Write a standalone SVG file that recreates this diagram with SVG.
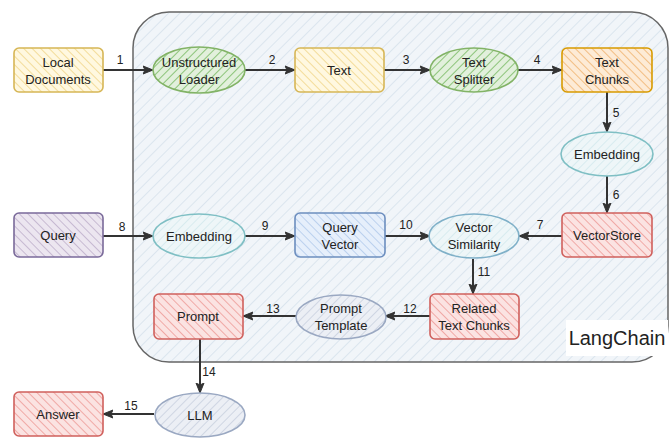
<svg xmlns="http://www.w3.org/2000/svg" width="671" height="438" viewBox="0 0 671 438">
<defs>
  <pattern id="hc" width="8" height="8" patternUnits="userSpaceOnUse" patternTransform="rotate(45)"><rect width="8" height="8" fill="#f1f5f9"/><line x1="0" y1="0" x2="0" y2="8" stroke="#dbe5ee" stroke-width="2"/></pattern>
  <pattern id="hy" width="6" height="6" patternUnits="userSpaceOnUse" patternTransform="rotate(-45)"><rect width="6" height="6" fill="#fff8e0"/><line x1="0" y1="0" x2="0" y2="6" stroke="#f3dc9a" stroke-width="2"/></pattern>
  <pattern id="ho" width="6" height="6" patternUnits="userSpaceOnUse" patternTransform="rotate(-45)"><rect width="6" height="6" fill="#fdebd6"/><line x1="0" y1="0" x2="0" y2="6" stroke="#f2bd82" stroke-width="2"/></pattern>
  <pattern id="hg" width="6" height="6" patternUnits="userSpaceOnUse" patternTransform="rotate(45)"><rect width="6" height="6" fill="#e2f0dc"/><line x1="0" y1="0" x2="0" y2="6" stroke="#8cc47a" stroke-width="2"/></pattern>
  <pattern id="hr" width="6" height="6" patternUnits="userSpaceOnUse" patternTransform="rotate(-45)"><rect width="6" height="6" fill="#fbe3e2"/><line x1="0" y1="0" x2="0" y2="6" stroke="#f0a9a6" stroke-width="2"/></pattern>
  <pattern id="hp" width="6" height="6" patternUnits="userSpaceOnUse" patternTransform="rotate(-45)"><rect width="6" height="6" fill="#ece6f0"/><line x1="0" y1="0" x2="0" y2="6" stroke="#c7bad2" stroke-width="2"/></pattern>
  <pattern id="hb" width="6" height="6" patternUnits="userSpaceOnUse" patternTransform="rotate(-45)"><rect width="6" height="6" fill="#e6effb"/><line x1="0" y1="0" x2="0" y2="6" stroke="#bcd1ee" stroke-width="2"/></pattern>
  <pattern id="ht" width="6" height="6" patternUnits="userSpaceOnUse" patternTransform="rotate(45)"><rect width="6" height="6" fill="#eef6f8"/><line x1="0" y1="0" x2="0" y2="6" stroke="#d8ebef" stroke-width="2"/></pattern>
  <pattern id="hl" width="6" height="6" patternUnits="userSpaceOnUse" patternTransform="rotate(45)"><rect width="6" height="6" fill="#eceff5"/><line x1="0" y1="0" x2="0" y2="6" stroke="#cfd6e3" stroke-width="2"/></pattern>
  <marker id="arr" viewBox="0 0 10 10" refX="9" refY="5" markerWidth="5" markerHeight="5" orient="auto-start-reverse" markerUnits="strokeWidth"><path d="M0,1 L10,5 L0,9 L2,5 Z" fill="#333" stroke="#333" stroke-width="1"/></marker>
</defs>
<style>
  text { font-family: "Liberation Sans", "DejaVu Sans", sans-serif; fill: #222; font-size: 13px; text-anchor: middle; }
  .lbl { font-size: 12px; text-anchor: middle; }
  .conn path { fill: none; stroke: #333; stroke-width: 2; marker-end: url(#arr); }
  .box { stroke-width: 1.6; }
</style>
<rect width="671" height="438" fill="#ffffff"/>

<g id="langchain">
  <rect x="133" y="12" width="535" height="350" rx="36" ry="36" fill="url(#hc)" stroke="#666" stroke-width="1.5"/>
  <rect x="566" y="320" width="102" height="36" fill="#ffffff"/>
  <text x="617" y="345" style="font-size:20px">LangChain</text>
</g>

<g class="conn" id="connectors">
  <path d="M103,70 L152,70"/><text class="lbl" x="120" y="64">1</text>
  <path d="M245,70 L294,70"/><text class="lbl" x="272" y="64">2</text>
  <path d="M384,70 L429,70"/><text class="lbl" x="406" y="64">3</text>
  <path d="M518,70 L561,70"/><text class="lbl" x="537" y="64">4</text>
  <path d="M607,92 L607,131"/><text class="lbl" x="616" y="117">5</text>
  <path d="M607,176 L607,212"/><text class="lbl" x="616" y="199">6</text>
  <path d="M562,236 L520,236"/><text class="lbl" x="540" y="229">7</text>
  <path d="M103,236 L152,236"/><text class="lbl" x="122" y="231">8</text>
  <path d="M245,236 L294,236"/><text class="lbl" x="265" y="230">9</text>
  <path d="M385,236 L429,236"/><text class="lbl" x="406" y="229">10</text>
  <path d="M473,259 L473,293"/><text class="lbl" x="484" y="276">11</text>
  <path d="M430,316 L386,316"/><text class="lbl" x="410" y="313">12</text>
  <path d="M296,316 L244,316"/><text class="lbl" x="273" y="313">13</text>
  <path d="M200,339 L200,392"/><text class="lbl" x="209" y="376">14</text>
  <path d="M154,414 L104,414"/><text class="lbl" x="131" y="410">15</text>
</g>

<g id="local-documents">
  <rect class="box" x="14" y="48" width="89" height="44" rx="5" fill="url(#hy)" stroke="#d6b656"/>
  <text x="58" y="67">Local</text><text x="58" y="84">Documents</text>
</g>
<g id="unstructured-loader">
  <ellipse class="box" cx="199" cy="70" rx="46" ry="23" fill="url(#hg)" stroke="#82b366"/>
  <text x="199" y="67">Unstructured</text><text x="199" y="84">Loader</text>
</g>
<g id="text">
  <rect class="box" x="295" y="48" width="89" height="44" rx="5" fill="url(#hy)" stroke="#d6b656"/>
  <text x="339" y="75">Text</text>
</g>
<g id="text-splitter">
  <ellipse class="box" cx="474" cy="70" rx="44" ry="22" fill="url(#hg)" stroke="#82b366"/>
  <text x="474" y="67">Text</text><text x="474" y="84">Splitter</text>
</g>
<g id="text-chunks">
  <rect class="box" x="562" y="48" width="90" height="44" rx="5" fill="url(#ho)" stroke="#d79b00"/>
  <text x="607" y="67">Text</text><text x="607" y="84">Chunks</text>
</g>
<g id="embedding-docs">
  <ellipse class="box" cx="607" cy="154" rx="46" ry="22" fill="url(#ht)" stroke="#7fbfc4"/>
  <text x="607" y="159">Embedding</text>
</g>
<g id="vectorstore">
  <rect class="box" x="562" y="213" width="90" height="44" rx="5" fill="url(#hr)" stroke="#d0605c"/>
  <text x="607" y="240">VectorStore</text>
</g>
<g id="query">
  <rect class="box" x="14" y="213" width="89" height="44" rx="5" fill="url(#hp)" stroke="#7a6a9a"/>
  <text x="58" y="240">Query</text>
</g>
<g id="embedding-query">
  <ellipse class="box" cx="199" cy="236" rx="46" ry="22" fill="url(#ht)" stroke="#7fbfc4"/>
  <text x="199" y="241">Embedding</text>
</g>
<g id="query-vector">
  <rect class="box" x="295" y="213" width="90" height="44" rx="5" fill="url(#hb)" stroke="#6c8ebf"/>
  <text x="340" y="232">Query</text><text x="340" y="249">Vector</text>
</g>
<g id="vector-similarity">
  <ellipse class="box" cx="474" cy="236" rx="45" ry="22" fill="url(#ht)" stroke="#7fb0c8"/>
  <text x="474" y="232">Vector</text><text x="474" y="249">Similarity</text>
</g>
<g id="related-text-chunks">
  <rect class="box" x="430" y="294" width="89" height="45" rx="5" fill="url(#hr)" stroke="#d0605c"/>
  <text x="474" y="313">Related</text><text x="474" y="330">Text Chunks</text>
</g>
<g id="prompt-template">
  <ellipse class="box" cx="341" cy="317" rx="45" ry="22" fill="url(#hl)" stroke="#9aa8c2"/>
  <text x="341" y="313">Prompt</text><text x="341" y="330">Template</text>
</g>
<g id="prompt">
  <rect class="box" x="154" y="294" width="89" height="45" rx="5" fill="url(#hr)" stroke="#d0605c"/>
  <text x="198" y="321">Prompt</text>
</g>
<g id="llm">
  <ellipse class="box" cx="200" cy="415" rx="45" ry="22" fill="url(#hl)" stroke="#9aa8c2"/>
  <text x="200" y="420">LLM</text>
</g>
<g id="answer">
  <rect class="box" x="14" y="392" width="89" height="44" rx="5" fill="url(#hr)" stroke="#d0605c"/>
  <text x="58" y="419">Answer</text>
</g>
</svg>
